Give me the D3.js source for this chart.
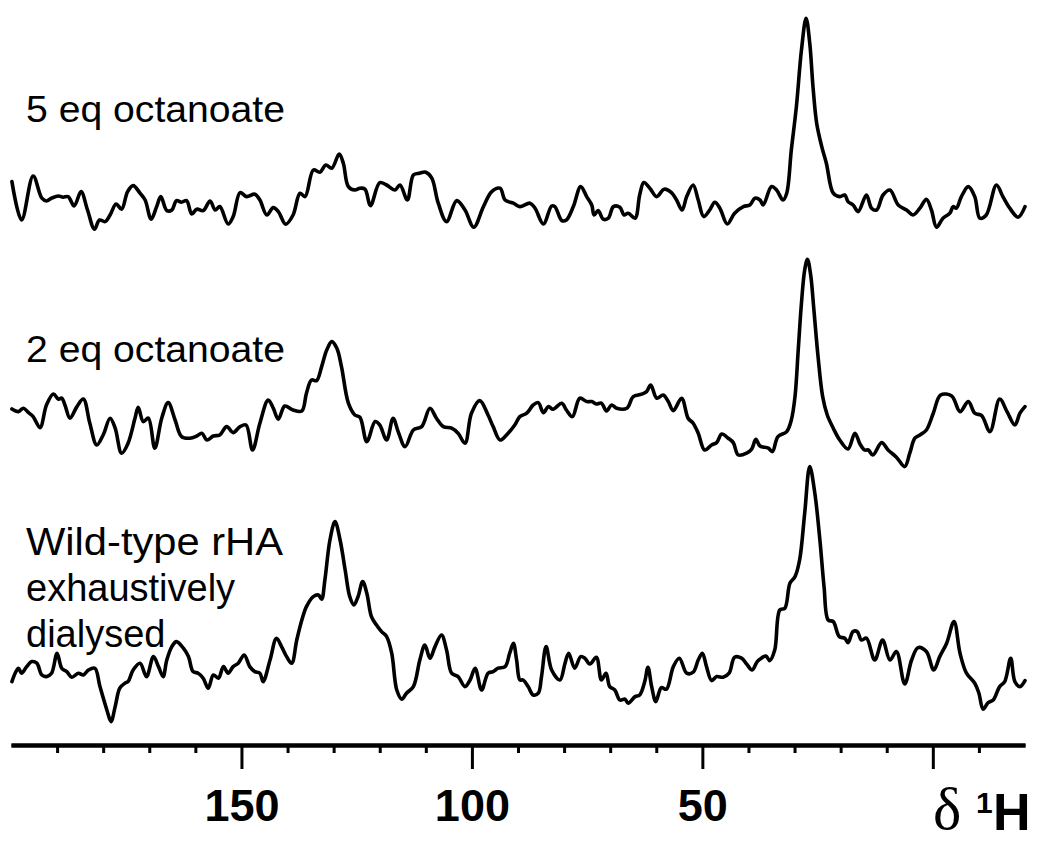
<!DOCTYPE html>
<html>
<head>
<meta charset="utf-8">
<script src="https://cdn.jsdelivr.net/npm/d3@7"></script>
<style>
  html, body { margin: 0; padding: 0; background: #fff; }
  svg { display: block; }
</style>
</head>
<body>
<svg id="chart" width="1043" height="842"></svg>
<script>
// 1H NMR spectra of rHA, chemical shift in ppm (reversed axis), intensity in arbitrary units.

const sampleLabels = [
  ["5 eq octanoate"],
  ["2 eq octanoate"],
  ["Wild-type rHA", "exhaustively", "dialysed"]
];

const majorTicks = [150, 100, 50, 0];
const majorTickLabels = ["150", "100", "50", ""];
const minorTicks = [190, 180, 170, 160, 140, 130, 120, 110, 90, 80, 70, 60, 40, 30, 20, 10, -10];

// [ppm, intensity]
const spectrum5eq = [
  [199.8,24.2],[197.7,5],[195.2,27],[193.3,15.9],[192.3,14.5],[191.2,15.9],[189.7,17],[188.7,16.4],
  [187.6,16.7],[186.3,12],[184.8,19.2],[183.4,10],[181.9,0.4],[180.8,5],[179.6,4.2],[178.5,7.5],
  [177.2,13],[176.0,10.4],[174.7,19.2],[173.5,22.2],[172.0,18.4],[170.9,15],[169.6,5.4],[168.4,11.7],
  [167.5,16.7],[166.2,9.7],[165.1,10],[164.1,14.7],[163.0,13.9],[161.9,14.7],[160.8,8],[159.7,10.4],
  [158.3,9.7],[156.8,14.5],[155.7,10],[154.7,11.7],[152.9,3],[151.8,6.7],[150.3,18.7],[148.9,16.7],
  [147.1,17.9],[146.0,15],[144.5,7.5],[143.1,11.2],[142.0,9.2],[140.4,2.9],[138.8,7.5],[137.3,18.4],
  [136.2,16.7],[134.4,30],[133.0,28.9],[131.7,32.5],[130.4,30.9],[128.8,38],[127.9,33.4],[126.8,21.7],
  [125.4,20],[124.3,20.9],[123.2,20.4],[122.0,12.2],[120.0,23.7],[118.5,22.5],[116.7,20],[115.6,22.5],
  [114.0,15],[112.7,27.5],[111.4,28.4],[110.0,28.9],[108.7,25.9],[107.3,13.4],[105.5,4.2],[103.3,14.7],
  [101.5,10],[99.6,1.4],[97.5,11.7],[95.7,19.2],[93.9,20.9],[92.8,15],[91.0,13.4],[89.6,11.7],
  [87.4,13.4],[86.3,10.9],[84.5,3],[82.7,12],[82.0,11.7],[80.5,4.7],[79.5,5],[78.0,11.7],
  [76.4,21.7],[75.1,16.7],[74.0,12.5],[73.5,7.5],[72.6,9.7],[71.5,5.4],[70.4,5.9],[69.3,11.7],
  [67.9,11.4],[67.0,7.5],[66.1,8.4],[64.6,5.9],[63.6,17.5],[62.7,23.7],[61.4,20.9],[59.9,16.7],
  [58.3,20.4],[56.7,18.7],[55.6,15],[54.4,10],[53.4,16.7],[52.0,22.5],[50.9,15],[49.7,6.7],
  [48.4,10],[47.3,13.9],[46.2,10.9],[44.6,3],[43.0,8.4],[41.1,11.7],[39.7,12.5],[38.6,15.9],
  [37.5,15],[36.8,12.5],[35.0,21.7],[33.9,20],[32.5,15],[31.7,18.4],[30.7,40],[29.6,61.7],
  [28.5,90],[27.5,105.9],[26.7,93.4],[26.0,71.7],[25.2,53.4],[24.1,41.7],[23.1,33.4],[21.6,18.4],
  [20.2,16.7],[19.1,17.5],[18.4,14.2],[17.3,12.5],[16.2,9.2],[14.4,17.5],[13.3,10.9],[12.2,10],
  [10.8,17.5],[9.3,20],[7.5,12.5],[5.7,10],[4.3,7.5],[2.8,10.9],[1.4,15.4],[0.3,10],
  [-0.8,1.4],[-2.2,5.9],[-3.7,8.4],[-4.4,11.7],[-5.1,10.9],[-6.2,16.7],[-7.7,21.7],[-9.1,16.7],
  [-10.2,5.9],[-11.6,7.5],[-13.8,22.5],[-15.2,16.7],[-16.7,10.9],[-18.5,6.4],[-20.0,11.7]
];

const spectrum2eq = [
  [199.8,30.5],[198.4,29.2],[197.3,30.9],[196.2,28.7],[195.2,26.7],[193.7,21.2],[192.3,32.5],[190.8,38],
  [189.7,35.4],[189.0,35.9],[188.3,32.5],[187.2,25.9],[185.7,31.7],[184.3,35.5],[182.9,23.4],[181.4,12.5],
  [180.0,17.5],[178.5,25.9],[177.4,20.9],[176.0,8.4],[174.6,13.4],[173.1,25.9],[172.4,31.4],[171.3,24.2],
  [170.2,25.9],[168.8,10.9],[167.3,25.9],[165.9,33.7],[164.4,25],[163.0,16.7],[161.2,15.9],[159.7,17],
  [158.6,18.4],[157.5,15],[156.1,17],[154.7,17.5],[153.2,21.7],[151.8,18.7],[150.3,21.7],[149.0,22.5],
  [147.6,10],[146.0,23.4],[144.2,35],[143.1,30.9],[142.0,25.4],[140.6,32],[138.8,30],[136.9,29.5],
  [135.9,38.4],[134.8,45],[133.7,44.7],[132.6,51.7],[131.5,60],[130.4,64.2],[129.3,60.9],[128.3,51.7],
  [126.8,33.4],[125.4,27.5],[124.3,26.4],[122.8,14.2],[121.0,24.2],[120.0,22.5],[118.5,15],[117.1,25.9],
  [116.0,19.2],[114.5,11.7],[112.7,20],[110.9,21.7],[109.1,30.9],[107.7,25.9],[106.2,21.7],[104.4,20.9],
  [103.0,18.4],[101.5,13.4],[100.1,28.4],[98.3,34.7],[96.5,27.5],[95.4,21.7],[93.9,15],[92.5,17.5],
  [90.7,22.5],[89.6,26.7],[88.1,28.4],[86.7,32.5],[85.6,33.7],[84.5,28.7],[83.4,31.7],[82.4,30.4],
  [80.5,33.4],[79.5,30],[78.2,26.7],[76.6,35.9],[75.1,34.2],[74.0,34.2],[73.0,33],[71.9,33.4],
  [70.8,29.5],[69.7,32.5],[68.6,30.9],[66.4,30.9],[65.0,36.7],[63.2,37.9],[62.1,39.2],[61.2,42.5],
  [59.9,35.9],[58.5,37.5],[57.4,34.2],[56.3,29.7],[54.5,35.9],[53.1,25.9],[52.0,23.4],[50.9,18.4],
  [49.5,10],[48.0,12.5],[46.9,13.7],[45.8,18],[44.4,15.9],[43.3,13.7],[42.2,7.5],[40.4,8.4],
  [39.3,10.4],[38.4,15.4],[37.5,12],[35.7,10.9],[34.8,9.2],[33.6,16.7],[31.7,19.2],[30.7,25],
  [29.9,36.7],[29.2,60],[28.5,83.4],[27.8,100],[27.2,105.4],[26.5,97.5],[25.8,80],[24.9,56.7],
  [23.9,36.7],[22.9,27.5],[21.6,20.9],[20.2,15],[18.4,10.5],[16.9,18.4],[15.8,13],[14.8,10],
  [14.0,10],[13.0,7.5],[11.1,13.7],[9.7,10],[7.9,6.4],[6.1,1.7],[5.0,8.4],[3.9,15.9],
  [2.8,17.5],[1.4,20],[-0.1,28.4],[-1.7,37.5],[-4.1,37],[-5.9,29.2],[-7.7,34.2],[-9.1,28.4],
  [-10.6,27.2],[-12.4,19.2],[-14.5,35.5],[-16.1,29.2],[-17.8,22.5],[-18.9,28.4],[-20.0,31.7]
];

const spectrumWildType = [
  [199.8,21.7],[199.1,25.9],[198.4,28.4],[197.7,25.9],[196.6,29.2],[195.5,31.7],[194.4,30.9],[193.3,25],
  [192.3,24.2],[191.2,25.9],[190.0,35.9],[189.0,28.4],[187.9,26.7],[186.8,23.9],[185.4,25.9],[184.3,25],
  [183.2,27.5],[181.8,28.4],[180.7,19.2],[179.2,7.5],[178.3,1.7],[177.4,9.2],[176.4,18.4],[175.3,20.9],
  [174.6,21.7],[173.5,27.5],[172.0,30.9],[170.6,24.2],[169.1,34.2],[168.0,29.2],[167.0,24.2],[166.2,32.5],
  [165.1,39.2],[164.1,41.7],[162.6,38.4],[161.5,34.2],[160.5,26.7],[159.4,25.9],[158.3,23.4],[157.2,18.4],
  [156.1,25],[155.0,23.4],[153.9,29.2],[152.9,25.9],[151.8,29.2],[150.7,30.9],[149.4,35],[148.2,29.2],
  [147.1,26.7],[146.0,25.9],[145.3,21.7],[143.8,32.5],[142.4,43.4],[141.3,39.2],[140.2,34.2],[139.1,30.9],
  [138.0,42.5],[136.9,52.5],[135.9,59.2],[134.4,64.2],[133.3,65],[132.6,62.9],[131.9,72.5],[130.8,92.5],
  [129.7,101.7],[128.6,92.5],[127.5,77.5],[126.5,64.2],[125.6,60],[124.7,64.2],[123.7,71.7],[122.8,65.9],
  [121.8,54.2],[120.7,50],[119.6,46.7],[118.5,44.2],[117.4,35.9],[116.3,17.5],[115.2,12.9],[114.2,15.9],
  [112.7,19.2],[111.3,32.5],[110.2,40],[109.1,33.4],[108.0,39.2],[106.6,45],[105.5,37.5],[104.4,25.9],
  [103.0,24.2],[101.5,19.2],[100.4,22.5],[99.3,28.4],[97.9,17.5],[96.5,25.9],[95.4,26.7],[94.3,28.4],
  [92.8,29.2],[91.8,35.9],[91.0,40.9],[90.3,32.5],[89.6,22.5],[88.9,22.5],[87.8,19.2],[86.7,15],
  [85.6,15.9],[84.9,24.2],[83.9,39.2],[82.7,27.5],[80.9,22.5],[79.8,30.9],[79.0,35.9],[77.7,28.4],
  [76.4,34.2],[75.5,33.4],[74.4,30.5],[73.0,33.9],[71.9,22.5],[70.9,25.9],[70.1,19.2],[69.0,17.5],
  [67.9,12.5],[66.8,12.9],[66.1,10.9],[64.6,14.2],[63.6,15],[62.5,21.7],[61.8,28.9],[61.0,19.2],
  [60.1,11.7],[58.9,18.7],[57.8,17.9],[56.3,29.2],[55.0,33.4],[53.4,25.9],[52.0,26.4],[50.9,32.5],
  [50.0,35.9],[49.1,29.2],[48.0,22.2],[46.9,24.2],[45.5,23.9],[44.2,25.9],[43.0,33.9],[41.5,33.4],
  [40.4,30.5],[39.2,27.5],[38.1,31.7],[37.2,33.4],[36.2,34.5],[35.4,32.2],[34.3,37.5],[33.2,57.5],
  [32.1,58.4],[31.0,70.9],[29.9,74.2],[28.9,82.5],[27.8,105.9],[26.7,129.2],[25.6,115.9],[24.5,92.5],
  [23.6,69.2],[22.7,52.5],[21.6,51.7],[20.3,44.2],[19.1,43.4],[18.4,41.2],[17.3,46.7],[16.4,46.7],
  [15.5,42.5],[14.4,43.4],[12.6,32.5],[10.9,42.5],[9.3,32.5],[7.9,36.7],[6.1,20.5],[4.6,32.5],
  [3.2,38.7],[1.4,36.7],[-0.2,27.5],[-1.5,34.2],[-3.0,40.9],[-4.6,51.7],[-5.9,35.9],[-7.3,25.9],
  [-9.1,20.9],[-10.0,15.9],[-10.9,7.9],[-12.0,11.2],[-13.1,12.5],[-14.5,19.2],[-15.6,21.7],[-16.9,33.4],
  [-17.8,21.7],[-18.9,19.2],[-20.0,22.2]
];

const spectra = [spectrum5eq, spectrum2eq, spectrumWildType];
const baselines = [230, 470, 725];

const svg = d3.select("#chart");
const FONT = "'Liberation Sans', Arial, Helvetica, sans-serif";

// chemical shift runs right-to-left
const x = d3.scaleLinear().domain([200, -20]).range([11, 1025]);

// stacked traces, each with its own vertical offset
spectra.forEach((data, i) => {
  const y = d3.scaleLinear().domain([0, 100]).range([baselines[i], baselines[i] - 200]);
  const line = d3.line()
    .x(d => x(d[0]))
    .y(d => y(d[1]))
    .curve(d3.curveCatmullRom.alpha(0.5));
  svg.append("path")
    .datum(data)
    .attr("d", line)
    .attr("fill", "none")
    .attr("stroke", "#000")
    .attr("stroke-width", 3.6)
    .attr("stroke-linejoin", "round")
    .attr("stroke-linecap", "round");
});

// sample labels (line widths fitted per line where given)
const labelY = [122, 362, 555];
const labelSize = [36, 36, 38];
const labelLen = [[259], [259], [257, null, null]];
sampleLabels.forEach((lines, i) => {
  lines.forEach((t, j) => {
    const txt = svg.append("text")
      .attr("x", 26)
      .attr("y", labelY[i] + j * 46)
      .attr("font-family", FONT)
      .attr("font-size", labelSize[i])
      .attr("fill", "#000")
      .text(t);
    const len = labelLen[i][j];
    if (len) {
      txt.attr("textLength", len).attr("lengthAdjust", "spacingAndGlyphs");
    }
  });
});

// x axis: minor ticks every 10 ppm, labelled major ticks every 50 ppm
const axisY = 745;
const minorAxis = d3.axisBottom(x).tickValues(minorTicks).tickSize(8).tickSizeOuter(0).tickFormat("");
const majorAxis = d3.axisBottom(x).tickValues(majorTicks).tickSize(24).tickSizeOuter(0).tickPadding(20)
  .tickFormat((d, i) => majorTickLabels[i]);

const gMinor = svg.append("g").attr("transform", `translate(0,${axisY})`).call(minorAxis);
const gMajor = svg.append("g").attr("transform", `translate(0,${axisY})`).call(majorAxis);

[gMinor, gMajor].forEach(g => {
  g.select(".domain").attr("stroke", "#000").attr("stroke-width", 4);
  g.selectAll(".tick line").attr("stroke", "#000").attr("stroke-width", 3);
});
gMajor.selectAll(".tick text")
  .attr("font-family", FONT)
  .attr("font-weight", "bold")
  .attr("font-size", 45)
  .attr("fill", "#000");

// axis title: δ ¹H
svg.append("text")
  .attr("x", 933)
  .attr("y", 829)
  .attr("font-family", "'Liberation Serif', 'Times New Roman', serif")
  .attr("font-size", 60)
  .attr("fill", "#000")
  .text("δ");
svg.append("text")
  .attr("x", 976)
  .attr("y", 813)
  .attr("font-family", FONT)
  .attr("font-weight", "bold")
  .attr("font-size", 30)
  .attr("fill", "#000")
  .text("1");
svg.append("text")
  .attr("x", 993)
  .attr("y", 830)
  .attr("font-family", FONT)
  .attr("font-weight", "bold")
  .attr("font-size", 52)
  .attr("fill", "#000")
  .text("H");
</script>
</body>
</html>
